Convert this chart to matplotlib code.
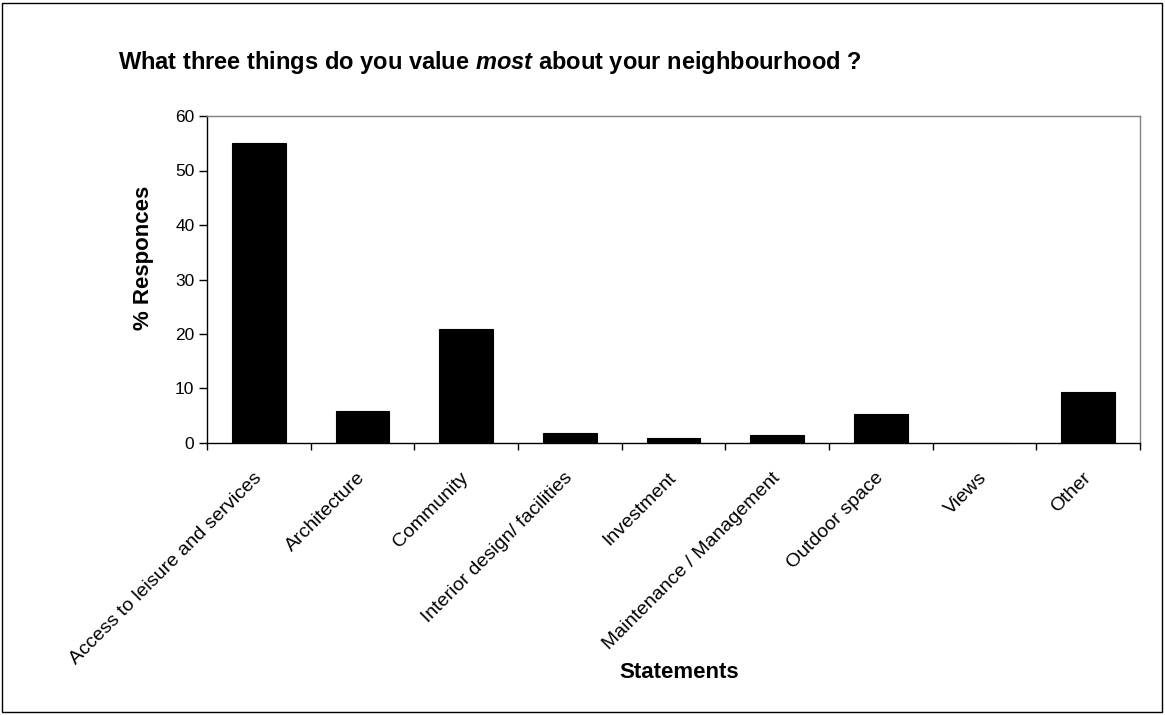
import matplotlib
matplotlib.use("Agg")
import matplotlib.pyplot as plt
from matplotlib.patches import Rectangle
import numpy as np

categories = ["Access to leisure and services", "Architecture", "Community",
              "Interior design/ facilities", "Investment", "Maintenance / Management",
              "Outdoor space", "Views", "Other"]
values = [55.0, 5.8, 20.9, 1.8, 0.9, 1.4, 5.3, 0.0, 9.3]
yticks = [0, 10, 20, 30, 40, 50, 60]

plt.rcParams['font.family'] = ['Liberation Sans', 'DejaVu Sans']
plt.rcParams['mathtext.fontset'] = 'custom'
plt.rcParams['mathtext.it'] = 'Liberation Sans:italic:bold'
plt.rcParams['mathtext.rm'] = 'Liberation Sans:bold'
plt.rcParams['mathtext.bf'] = 'Liberation Sans:bold'

W, H = 1165, 715
fig = plt.figure(figsize=(W / 100, H / 100), dpi=100)
ax = fig.add_axes([207 / W, 1 - 443 / H, (1140 - 207) / W, (443 - 116) / H])

x = np.arange(len(categories)) + 0.5
ax.bar(x, values, width=0.52, color='black', edgecolor='black', linewidth=0.8)

ax.set_xlim(0, len(categories))
ax.set_ylim(0, 60)
ax.set_yticks(yticks)
ax.set_yticklabels([str(t) for t in yticks], fontsize=12.5)
ax.set_xticks(np.arange(len(categories) + 1))
ax.set_xticklabels([])
ax.set_xticks(x, minor=True)
ax.set_xticklabels(categories, minor=True, rotation=45, ha='right', va='center',
                   rotation_mode='anchor', fontsize=14)
ax.tick_params(axis='x', which='minor', length=0, pad=23)
ax.tick_params(axis='x', which='major', length=5, direction='out', width=1)
ax.tick_params(axis='y', length=6, direction='out', width=1, pad=3)

for s in ['left', 'bottom']:
    ax.spines[s].set_color('black')
    ax.spines[s].set_linewidth(1)
for s in ['top', 'right']:
    ax.spines[s].set_color('#808080')
    ax.spines[s].set_linewidth(1)

fig.text(143 / W, 1 - 257.5 / H, '% Responces', rotation=90, ha='center', va='center',
         fontsize=16, fontweight='bold')
fig.text(679 / W, 1 - 673 / H, 'Statements', ha='center', va='center',
         fontsize=16, fontweight='bold')
fig.text(490 / W, 1 - 62 / H,
         r'What three things do you value $\mathit{most}$ about your neighbourhood ?',
         ha='center', va='center', fontsize=17, fontweight='bold')

fig.patches.append(Rectangle((2 / W, 3 / H), 1 - 5 / W, 1 - 6 / H,
                             transform=fig.transFigure, fill=False,
                             edgecolor='black', linewidth=1))

fig.savefig('out.png', dpi=100)
